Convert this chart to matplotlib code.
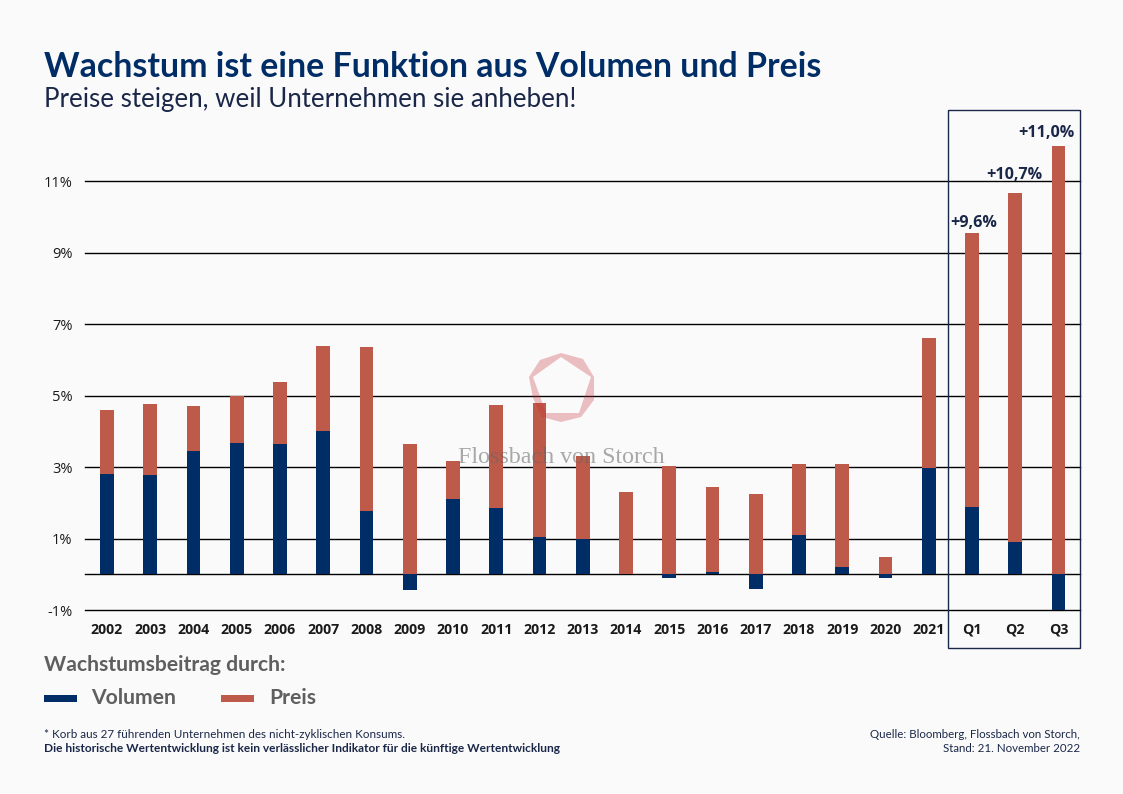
import matplotlib
matplotlib.use("Agg")
import matplotlib.pyplot as plt
from matplotlib.patches import Rectangle, PathPatch
from matplotlib.path import Path

categories = ['2002','2003','2004','2005','2006','2007','2008','2009','2010','2011','2012','2013',
              '2014','2015','2016','2017','2018','2019','2020','2021','Q1','Q2','Q3']
volumen = [2.80,2.77,3.45,3.67,3.65,4.00,1.77,-0.45,2.10,1.85,1.03,1.00,0.02,-0.10,0.07,-0.42,1.09,0.20,-0.10,2.97,1.88,0.90,-1.00]
gesamt_oben = [4.60,4.76,4.70,5.00,5.38,6.40,6.37,3.65,3.17,4.74,4.80,3.30,2.30,3.03,2.44,2.24,3.08,3.08,0.48,6.60,9.56,10.67,11.97]
y_ticks = [-1,1,3,5,7,9,11]
y_labels = ['-1%','1%','3%','5%','7%','9%','11%']
callouts = {'Q1':'+9,6%','Q2':'+10,7%','Q3':'+11,0%'}

NAVY='#002d66'; RED='#bd5a49'; BG='#fafafa'; INK='#1a2748'; GREY='#5f5f5f'
W,H=1123,794
fig=plt.figure(figsize=(W/100,H/100),dpi=100,facecolor=BG)
def fx(p): return p/W
def fy(p): return 1-p/H
ymax=12.1
ppu=35.72
ax=fig.add_axes([fx(85),fy(610),fx(995),(610-(574-ymax*ppu))/H])
ax.set_facecolor('none')
ax.set_xlim((85-107)/43.25,(1080-107)/43.25)
ax.set_ylim(-1,ymax)
xs=list(range(len(categories)))
preis=[t-max(v,0) for t,v in zip(gesamt_oben,volumen)]
base=[max(v,0) for v in volumen]
ax.bar(xs,volumen,width=0.32,color=NAVY,zorder=3)
ax.bar(xs,preis,bottom=base,width=0.32,color=RED,zorder=3)
for s in ax.spines.values(): s.set_visible(False)
ax.set_yticks(y_ticks,y_labels)
ax.set_xticks(xs,categories)
ax.tick_params(axis='both',length=0)
ax.tick_params(axis='x',pad=9)
ax.tick_params(axis='y',pad=9)
for l in ax.get_xticklabels():
    l.set(fontfamily='Open Sans',fontweight='bold',fontsize=10.2,color='#1a1a1a')
for l in ax.get_yticklabels():
    l.set(fontfamily='Open Sans',fontsize=10.5,color='#1a1a1a')
for t in y_ticks+[0]:
    ax.axhline(t,color='black',lw=1,zorder=2,clip_on=False)
offsets={'Q1':(18,7),'Q2':(19.5,13),'Q3':(11.5,10)}
for c,txt in callouts.items():
    i=categories.index(c)
    ax.annotate(txt,(i,gesamt_oben[i]),xytext=offsets[c],textcoords='offset points',
                ha='right',va='center',fontfamily='Open Sans',fontweight='bold',
                fontsize=11.6,color=INK,zorder=5)

fig.add_artist(Rectangle((fx(947.5),fy(648)),(1080-947.5)/W,(648-110)/H,
               transform=fig.transFigure,fill=False,ec=INK,lw=1))

# Wasserzeichen
outer=[(561,353),(583,359),(594,377),(594,400),(581,417),(561,422),(542,417),(533,398),(529,377),(540,360)]
inner=[(561,357),(533,377),(546,413),(579,413),(591,377)]
def pts(l): return [(fx(x),fy(y)) for x,y in l]
outer_v=pts(outer); inner_v=pts(inner)
verts=outer_v+[outer_v[0]]+inner_v+[inner_v[0]]
codes=[Path.MOVETO]+[Path.LINETO]*(len(outer)-1)+[Path.CLOSEPOLY]+[Path.MOVETO]+[Path.LINETO]*(len(inner)-1)+[Path.CLOSEPOLY]
fig.add_artist(PathPatch(Path(verts,codes),transform=fig.transFigure,fc='#c8303a',ec='none',alpha=0.3,zorder=6))
fig.text(fx(561.5),fy(458),'Flossbach von Storch',ha='center',va='center',fontfamily='Liberation Serif',
         fontsize=17.3,color='#666666',alpha=0.55,zorder=6)

fig.text(fx(44),fy(67),'Wachstum ist eine Funktion aus Volumen und Preis',fontfamily='Lato',fontweight='bold',
         fontsize=24.4,color=NAVY,va='center')
fig.text(fx(44),fy(100),'Preise steigen, weil Unternehmen sie anheben!',fontfamily='Lato',
         fontsize=18.6,color=INK,va='center')
fig.text(fx(44),fy(665),'Wachstumsbeitrag durch:',fontfamily='Lato',fontweight='bold',fontsize=15.2,color=GREY,va='center')
fig.add_artist(Rectangle((fx(44),fy(702)),33/W,7/H,transform=fig.transFigure,fc=NAVY,ec='none'))
fig.add_artist(Rectangle((fx(221),fy(702)),33/W,7/H,transform=fig.transFigure,fc=RED,ec='none'))
fig.text(fx(91),fy(698),'Volumen',fontfamily='Lato',fontweight='bold',fontsize=15.2,color=GREY,va='center')
fig.text(fx(269),fy(698),'Preis',fontfamily='Lato',fontweight='bold',fontsize=15.2,color=GREY,va='center')
fig.text(fx(44),fy(735),'* Korb aus 27 führenden Unternehmen des nicht-zyklischen Konsums.',fontfamily='Lato',fontsize=8.33,color=INK,va='center')
fig.text(fx(44),fy(748),'Die historische Wertentwicklung ist kein verlässlicher Indikator für die künftige Wertentwicklung',
         fontfamily='Lato',fontweight='bold',fontsize=8.55,color=INK,va='center')
fig.text(fx(1080),fy(734),'Quelle: Bloomberg, Flossbach von Storch,',fontfamily='Lato',fontsize=8.25,color=INK,va='center',ha='right')
fig.text(fx(1080),fy(749),'Stand: 21. November 2022',fontfamily='Lato',fontsize=8.25,color=INK,va='center',ha='right')
fig.savefig('out.png',dpi=100,facecolor=BG)
